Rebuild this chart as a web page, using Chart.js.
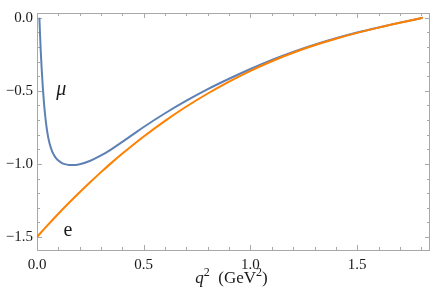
<!DOCTYPE html>
<html>
<head>
<meta charset="utf-8">
<script src="https://cdn.jsdelivr.net/npm/chart.js@4.4.1/dist/chart.umd.min.js"></script>
<style>
    html, body { margin: 0; padding: 0; background: #fff; }
    #wrap { width: 436px; height: 295px; }
</style>
</head>
<body>
<div id="wrap"><canvas id="chart" width="436" height="295"></canvas></div>
<script>
// q^2 in GeV^2
const eQ2 = [0, 0.05, 0.1, 0.15, 0.2, 0.25, 0.3, 0.35, 0.4, 0.5, 0.6, 0.7, 0.8, 0.9, 1.0, 1.1, 1.2, 1.3, 1.4, 1.5, 1.6, 1.7, 1.807];
const eVals = [-1.5, -1.419, -1.341, -1.266, -1.194, -1.124, -1.056, -0.991, -0.929, -0.812, -0.705, -0.607, -0.518, -0.437, -0.363, -0.297, -0.239, -0.188, -0.143, -0.103, -0.067, -0.034, 0];

const muQ2 = [0.0112, 0.013, 0.015, 0.018, 0.022, 0.027, 0.032, 0.038, 0.045, 0.052, 0.06, 0.07, 0.08, 0.09, 0.1, 0.115, 0.13, 0.15, 0.17, 0.2, 0.25, 0.3, 0.35, 0.4, 0.45, 0.5, 0.6, 0.7, 0.8, 0.9, 1.0, 1.1, 1.2, 1.3, 1.4, 1.5, 1.6, 1.7, 1.807];
const muVals = [0, -0.07, -0.14, -0.24, -0.35, -0.47, -0.57, -0.665, -0.75, -0.815, -0.865, -0.91, -0.94, -0.962, -0.977, -0.992, -1.001, -1.007, -1.008, -1.002, -0.978, -0.942, -0.898, -0.849, -0.798, -0.747, -0.653, -0.567, -0.488, -0.417, -0.35, -0.288, -0.233, -0.184, -0.14, -0.101, -0.066, -0.033, 0];

const xTicks = [0, 0.5, 1.0, 1.5];
const yTicks = [0, -0.5, -1.0, -1.5];

// curve names and where they sit (data units)
const curveLabels = [
    { text: 'μ', q2: 0.114, val: -0.49, italic: true },
    { text: 'e', q2: 0.145, val: -1.455, italic: false }
];

const SERIF = "'Liberation Serif', 'Times New Roman', 'DejaVu Serif', serif";
const FRAME = '#a8a8a8';
const TEXT = '#1a1a1a';

Chart.defaults.font.family = SERIF;

const toPoints = (xs, ys) => xs.map((x, i) => ({ x, y: ys[i] }));

const fmtTick = v => {
    if (Math.abs(v) < 1e-9) {
        return '0.0';
    }
    return (v < 0 ? '\u2212' : '') + Math.abs(v).toFixed(1);
};

const framePlugin = {
    id: 'frame',
    beforeDatasetsDraw(chart) {
        const { ctx, chartArea: a, scales: { x, y } } = chart;
        ctx.save();
        ctx.strokeStyle = FRAME;
        ctx.lineWidth = 1;
        ctx.strokeRect(a.left + 0.5, a.top + 0.5, a.right - a.left - 1, a.bottom - a.top);

        ctx.beginPath();
        // x ticks every 0.1, major every 0.5
        for (let i = 0; i / 10 <= x.max; i++) {
            const px = Math.round(x.getPixelForValue(i / 10)) + 0.5;
            const len = i % 5 === 0 ? 5 : 3;
            ctx.moveTo(px, a.bottom);
            ctx.lineTo(px, a.bottom - len);
            ctx.moveTo(px, a.top);
            ctx.lineTo(px, a.top + len);
        }
        for (let i = 0; -i / 10 >= y.min; i++) {
            const py = Math.round(y.getPixelForValue(-i / 10)) + 0.5;
            const len = i % 5 === 0 ? 5 : 3;
            ctx.moveTo(a.left, py);
            ctx.lineTo(a.left + len, py);
            ctx.moveTo(a.right, py);
            ctx.lineTo(a.right - len, py);
        }
        ctx.stroke();
        ctx.restore();
    },
    afterDraw(chart) {
        const { ctx, chartArea: a, scales: { x, y } } = chart;
        ctx.save();
        ctx.fillStyle = TEXT;
        ctx.textBaseline = 'alphabetic';

        // axis title: q^2 (GeV^2), superscripts drawn smaller and raised
        const parts = [
            { t: 'q', f: 'italic 17px ' + SERIF, dy: 0 },
            { t: '2', f: '12px ' + SERIF, dy: -7 },
            { t: '  (GeV', f: '17px ' + SERIF, dy: 0 },
            { t: '2', f: '12px ' + SERIF, dy: -7 },
            { t: ')', f: '17px ' + SERIF, dy: 0 }
        ];
        let total = 0;
        parts.forEach(p => {
            ctx.font = p.f;
            p.w = ctx.measureText(p.t).width;
            total += p.w;
        });
        let cx = (a.left + a.right) / 2 - total / 2 - 2;
        ctx.textAlign = 'left';
        parts.forEach(p => {
            ctx.font = p.f;
            ctx.fillText(p.t, cx, 283 + p.dy);
            cx += p.w;
        });

        // curve names
        ctx.textAlign = 'center';
        ctx.textBaseline = 'middle';
        curveLabels.forEach(l => {
            ctx.font = (l.italic ? 'italic ' : '') + '20px ' + SERIF;
            ctx.fillText(l.text, x.getPixelForValue(l.q2), y.getPixelForValue(l.val));
        });
        ctx.restore();
    }
};

new Chart(document.getElementById('chart').getContext('2d'), {
    type: 'scatter',
    data: {
        datasets: [
            {
                label: 'e',
                data: toPoints(eQ2, eVals),
                borderColor: '#ff8000',
                borderWidth: 2,
                showLine: true,
                pointRadius: 0,
                cubicInterpolationMode: 'monotone'
            },
            {
                label: 'μ',
                data: toPoints(muQ2, muVals),
                borderColor: '#5e81b5',
                borderWidth: 2,
                showLine: true,
                pointRadius: 0,
                cubicInterpolationMode: 'monotone'
            }
        ]
    },
    options: {
        responsive: false,
        animation: false,
        devicePixelRatio: 1,
        layout: { padding: { top: 7, right: 6, left: 0, bottom: 0 } },
        plugins: { legend: { display: false }, tooltip: { enabled: false } },
        scales: {
            x: {
                type: 'linear',
                min: 0,
                max: 1.841,
                afterBuildTicks: s => { s.ticks = xTicks.map(v => ({ value: v })); },
                afterFit: s => { s.height = 45; },
                grid: { display: false, drawTicks: false },
                border: { display: false },
                ticks: {
                    callback: fmtTick,
                    font: { family: SERIF, size: 15 },
                    color: TEXT,
                    padding: 6,
                    maxRotation: 0,
                    autoSkip: false
                }
            },
            y: {
                type: 'linear',
                min: -1.589,
                max: 0.033,
                afterBuildTicks: s => { s.ticks = yTicks.map(v => ({ value: v })); },
                afterFit: s => { s.width = 37; },
                grid: { display: false, drawTicks: false },
                border: { display: false },
                ticks: {
                    callback: fmtTick,
                    font: { family: SERIF, size: 15 },
                    color: TEXT,
                    padding: 4,
                    autoSkip: false
                }
            }
        }
    },
    plugins: [framePlugin]
});
</script>
</body>
</html>
